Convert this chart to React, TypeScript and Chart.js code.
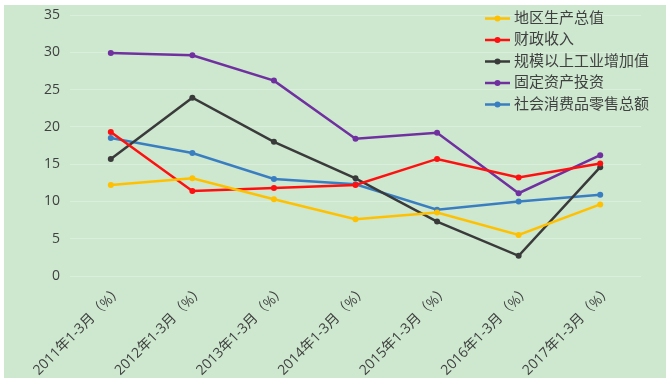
import React, { useEffect, useRef } from "react";
import { Chart, registerables } from "chart.js";
Chart.register(...registerables);

const categories = [
  "2011年1-3月（%）",
  "2012年1-3月（%）",
  "2013年1-3月（%）",
  "2014年1-3月（%）",
  "2015年1-3月（%）",
  "2016年1-3月（%）",
  "2017年1-3月（%）",
];
const seriesNames = ["地区生产总值", "财政收入", "规模以上工业增加值", "固定资产投资", "社会消费品零售总额"];
const gdp = [12.2, 13.1, 10.3, 7.6, 8.5, 5.5, 9.6];
const fiscal = [19.3, 11.4, 11.8, 12.2, 15.7, 13.2, 15.1];
const industry = [15.7, 23.9, 18.0, 13.1, 7.3, 2.7, 14.6];
const investment = [29.9, 29.6, 26.2, 18.4, 19.2, 11.1, 16.2];
const retail = [18.5, 16.5, 13.0, 12.3, 8.9, 10.0, 10.9];
const colors = ["#FFC000", "#FF1010", "#3A3A3A", "#7030A0", "#3A7EC2"];
const yMin = 0;
const yMax = 35;
const yStep = 5;

const FONT = '"Open Sans", "Noto Sans CJK SC", sans-serif';

const legendPlugin = {
  id: "customLegend",
  afterDraw(chart: any) {
    const ctx = chart.ctx;
    ctx.save();
    const x0 = 481;
    const y0 = 13.5;
    const gap = 21.5;
    chart.data.datasets.forEach((ds: any, i: number) => {
      const y = y0 + i * gap;
      ctx.strokeStyle = ds.borderColor;
      ctx.lineWidth = 2.5;
      ctx.beginPath();
      ctx.moveTo(x0, y);
      ctx.lineTo(x0 + 25, y);
      ctx.stroke();
      ctx.fillStyle = ds.borderColor;
      ctx.beginPath();
      ctx.arc(x0 + 12.5, y, 3, 0, Math.PI * 2);
      ctx.fill();
      ctx.fillStyle = "#404040";
      ctx.font = "15px " + FONT;
      ctx.textBaseline = "middle";
      ctx.textAlign = "left";
      ctx.fillText(ds.label, x0 + 29, y);
    });
    ctx.restore();
  },
};

const xLabelPlugin = {
  id: "xLabels",
  afterDraw(chart: any) {
    const ctx = chart.ctx;
    const xs = chart.scales.x;
    const bottom = chart.chartArea.bottom;
    ctx.save();
    ctx.fillStyle = "#404040";
    ctx.font = "14px " + FONT;
    ctx.textAlign = "right";
    ctx.textBaseline = "middle";
    chart.data.labels.forEach((lab: string, i: number) => {
      const px = xs.getPixelForValue(i);
      ctx.save();
      ctx.translate(px + 10, bottom + 12);
      ctx.rotate(-Math.PI / 4);
      ctx.fillText(lab, 0, 0);
      ctx.restore();
    });
    ctx.restore();
  },
};

export default function App() {
  const ref = useRef<HTMLCanvasElement>(null);
  useEffect(() => {
    const series = [gdp, fiscal, industry, investment, retail];
    const chart = new Chart(ref.current!, {
      type: "line",
      data: {
        labels: categories,
        datasets: series.map((d, i) => ({
          label: seriesNames[i],
          data: d,
          borderColor: colors[i],
          backgroundColor: colors[i],
          borderWidth: 2.5,
          pointRadius: 3,
          pointHoverRadius: 3,
          pointBorderWidth: 0,
          tension: 0,
        })),
      },
      options: {
        responsive: false,
        animation: false,
        layout: { padding: { top: 10, right: 25, left: 0, bottom: 0 } },
        plugins: { legend: { display: false }, tooltip: { enabled: false } },
        scales: {
          x: {
            offset: true,
            grid: { display: false, drawTicks: false },
            border: { display: false },
            ticks: { display: false },
            afterFit(scale: any) {
              scale.height = 102;
              scale.paddingTop = 0;
              scale.paddingBottom = 0;
            },
          },
          y: {
            min: yMin,
            max: yMax,
            ticks: {
              stepSize: yStep,
              color: "#404040",
              font: { size: 14, family: FONT },
              padding: 10,
            },
            grid: { color: "rgba(255,255,255,0.25)", drawTicks: false },
            border: { display: false },
            afterFit(scale: any) {
              scale.width = 66;
              scale.paddingTop = 0;
              scale.paddingBottom = 0;
            },
          },
        },
      },
      plugins: [legendPlugin, xLabelPlugin],
    });
    return () => chart.destroy();
  }, []);
  return (
    <div style={{ position: "fixed", left: 0, top: 0, width: 672, height: 384, background: "#ffffff" }}>
      <div style={{ position: "absolute", left: 4, top: 5, width: 662, height: 373, background: "#cde8cf" }}>
        <canvas ref={ref} width={662} height={373} style={{ display: "block" }} />
      </div>
    </div>
  );
}
